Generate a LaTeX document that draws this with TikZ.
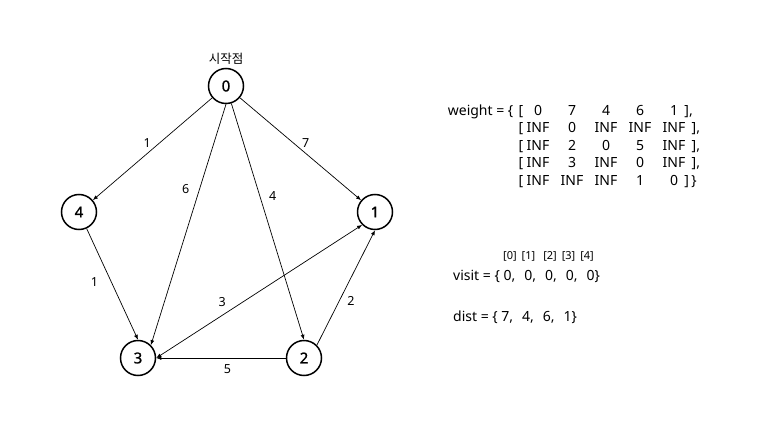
\documentclass[tikz,border=0pt]{standalone}
\usepackage{fontspec}
\setmainfont{Noto Sans}
\newfontfamily\krfont{Noto Sans CJK KR}
\newfontfamily\vertexfont[FakeBold=1.3]{Noto Sans}
\usetikzlibrary{arrows.meta,positioning}

\begin{document}
\begin{tikzpicture}[x=1pt, y=-1pt, >={Latex[length=5pt,width=4pt]}]
  \tikzset{vertex/.style={circle, draw, line width=1.5pt, minimum size=35pt, inner sep=0pt, font=\fontsize{15}{16}\vertexfont},
    link/.style={->, line width=0.7pt},
    wlabel/.style={font=\fontsize{12.5}{14}\selectfont, inner sep=2pt},
    txt/.style={font=\fontsize{14}{15}\selectfont, inner sep=2pt, text height=10pt, text depth=3pt},
    idx/.style={font=\fontsize{11}{12}\selectfont, inner sep=2pt}}
  \useasboundingbox (0,0) rectangle (773,435);
  % graph
  \node[vertex] (n0) at (226,86) {0};
  \node[vertex] (n4) at (79,212) {4};
  \node[vertex] (n1) at (375,212) {1};
  \node[vertex] (n3) at (138,358) {3};
  \node[vertex] (n2) at (304,358) {2};
  \node[wlabel, above=1pt of n0] (start) {\krfont 시작점};
  \draw[link] (n0) -- node[wlabel, pos=0.5, above left=-1pt] {1} (n4);
  \draw[link] (n0) -- node[wlabel, pos=0.5, above right=-1pt] {7} (n1);
  \draw[link] (n0.south) -- node[wlabel, pos=0.35, left=8pt] {6} (n3.north east);
  \draw[link] (n0) -- node[wlabel, pos=0.39, right=7pt] {4} (n2.north);
  \draw[link] (n4) -- node[wlabel, pos=0.48, left=11pt] {1} (n3.north);
  \draw[link, <->] (n3.east) -- node[wlabel, pos=0.32, above=6pt] {3} (n1.south west);
  \draw[link] (n2.west) -- node[wlabel, pos=0.45, below=4pt] {5} (n3.east);
  \draw[link] (n2.north east) -- node[wlabel, pos=0.38, right=6pt] {2} (n1.south);
  % weight matrix
  \foreach \row [count=\r] in {{0,7,4,6,1},{INF,0,INF,INF,INF},{INF,2,0,5,INF},{INF,3,INF,0,INF},{INF,INF,INF,1,0}} {
    \node[txt] (lb\r) at (521,94.5+17.5*\r) {[};
    \foreach \v [count=\c] in \row {
      \node[txt] (w\r\c) at ({504+34*\c},94.5+17.5*\r) {\v};
    }
  }
  \foreach \r in {1,...,4} {
    \node[txt, right=2pt of w\r5] (rb\r) {],};
  }
  \node[txt, right=2pt of w55] (rb5) {]\,\}};
  \node[txt, left=1pt of lb1] (wname) {weight = \{};
  % visit and dist
  \node[idx, anchor=west] (index) at (501,256) {[0]\hspace{5pt}[1]\hspace{8pt}[2]\hspace{5pt}[3]\hspace{5pt}[4]};
  \node[txt, anchor=west] (visit) at (451,277) {visit = \{ 0,\hspace{9pt}0,\hspace{9pt}0,\hspace{9pt}0,\hspace{9pt}0\}};
  \node[txt, anchor=west] (dist) at (451,318) {dist = \{ 7,\hspace{9pt}4,\hspace{9pt}6,\hspace{9pt}1\}};
\end{tikzpicture}
\end{document}
